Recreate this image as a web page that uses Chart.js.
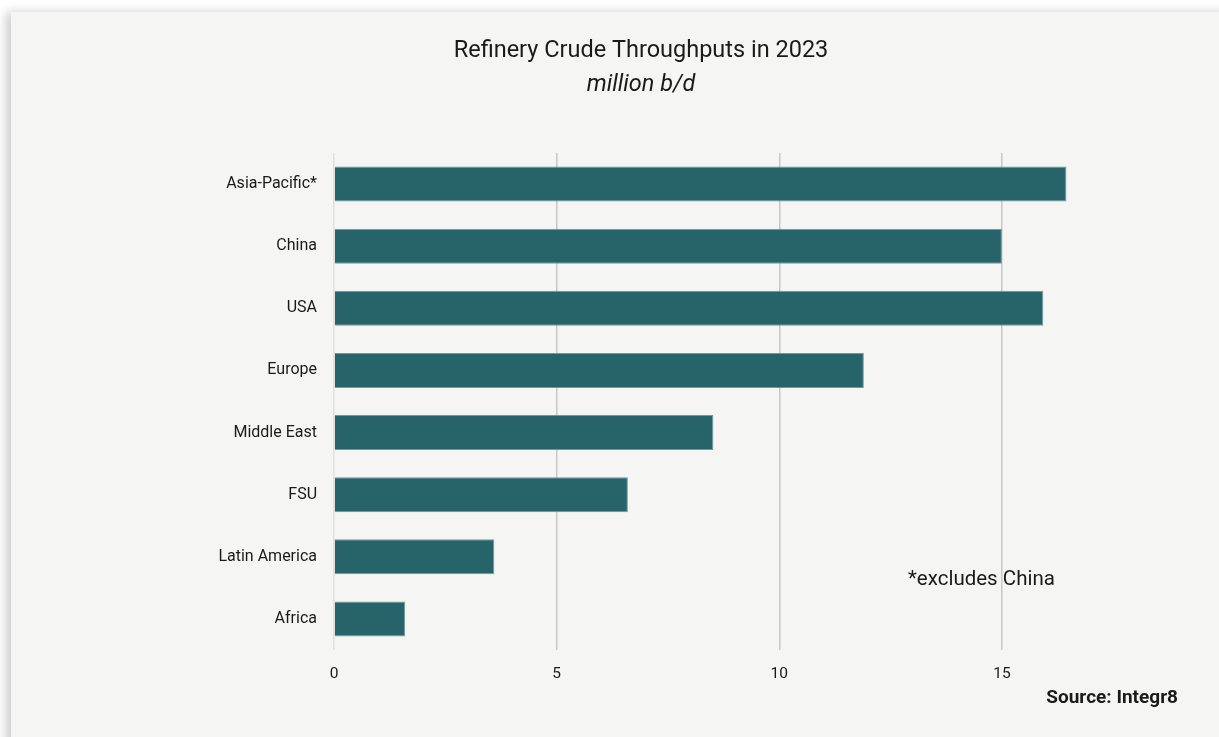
<!DOCTYPE html>
<html>
<head>
<meta charset="utf-8">
<script src="https://cdn.jsdelivr.net/npm/chart.js@4.4.1/dist/chart.umd.min.js"></script>
<style>
  html, body { margin: 0; padding: 0; background: #ffffff; width: 1219px; height: 737px; overflow: hidden; }
  #card { position: absolute; left: 11px; top: 12px; width: 1220px; height: 740px; background: #f5f5f3;
          box-shadow: -5px 0 10px rgba(0,0,0,0.2); }
  #wrap { position: absolute; left: 0; top: 0; width: 1219px; height: 737px; }
</style>
</head>
<body>
<div id="card"></div>
<div id="wrap"><canvas id="c" width="1219" height="737"></canvas></div>
<script>
const categories = ["Asia-Pacific*", "China", "USA", "Europe", "Middle East", "FSU", "Latin America", "Africa"];
const throughputs = [16.45, 15.0, 15.93, 11.9, 8.52, 6.6, 3.6, 1.6];
const xTicks = [0, 5, 10, 15];
const titleText = "Refinery Crude Throughputs in 2023";
const subtitleText = "million b/d";
const noteText = "*excludes China";
const sourceText = "Source: Integr8";

const FONT = "Roboto, 'Liberation Sans', sans-serif";

const textPlugin = {
  id: 'texts',
  afterDraw(chart) {
    const ctx = chart.ctx;
    ctx.save();
    ctx.fillStyle = '#1a1a1a';
    ctx.textAlign = 'center';
    ctx.textBaseline = 'middle';
    ctx.font = "23.5px " + FONT;
    ctx.fillText(titleText, 641, 51);
    ctx.font = "italic 23.5px " + FONT;
    ctx.fillText(subtitleText, 641, 85);
    ctx.textAlign = 'left';
    ctx.font = "20.5px " + FONT;
    ctx.fillText(noteText, 908, 580);
    ctx.textAlign = 'right';
    ctx.font = "bold 19px " + FONT;
    ctx.fillText(sourceText, 1178, 698);
    ctx.restore();
  }
};

new Chart(document.getElementById('c'), {
  type: 'bar',
  data: {
    labels: categories,
    datasets: [{
      data: throughputs,
      backgroundColor: '#27646a',
      borderColor: '#6f9a9c',
      borderWidth: 1,
      barPercentage: 0.565,
      categoryPercentage: 1.0
    }]
  },
  options: {
    indexAxis: 'y',
    responsive: false,
    animation: false,
    layout: { padding: { top: 153, right: 39, left: 0, bottom: 0 } },
    plugins: { legend: { display: false }, tooltip: { enabled: false } },
    scales: {
      x: {
        min: 0,
        max: 19,
        afterBuildTicks(scale) { scale.ticks = xTicks.map(v => ({ value: v })); },
        afterFit(scale) { scale.height = 737 - 650; },
        border: { display: false },
        grid: {
          drawTicks: false,
          lineWidth: 1.5,
          color: ctx => ctx.tick && ctx.tick.value === 0 ? '#e0e0de' : '#c8c8c6'
        },
        ticks: {
          padding: 15,
          color: '#1a1a1a',
          font: { family: FONT, size: 15.5 }
        }
      },
      y: {
        afterFit(scale) { scale.width = 334; },
        border: { display: false },
        grid: { display: false, drawTicks: false },
        ticks: {
          padding: 17,
          color: '#1a1a1a',
          font: { family: FONT, size: 16 }
        }
      }
    }
  },
  plugins: [textPlugin]
});
</script>
</body>
</html>
